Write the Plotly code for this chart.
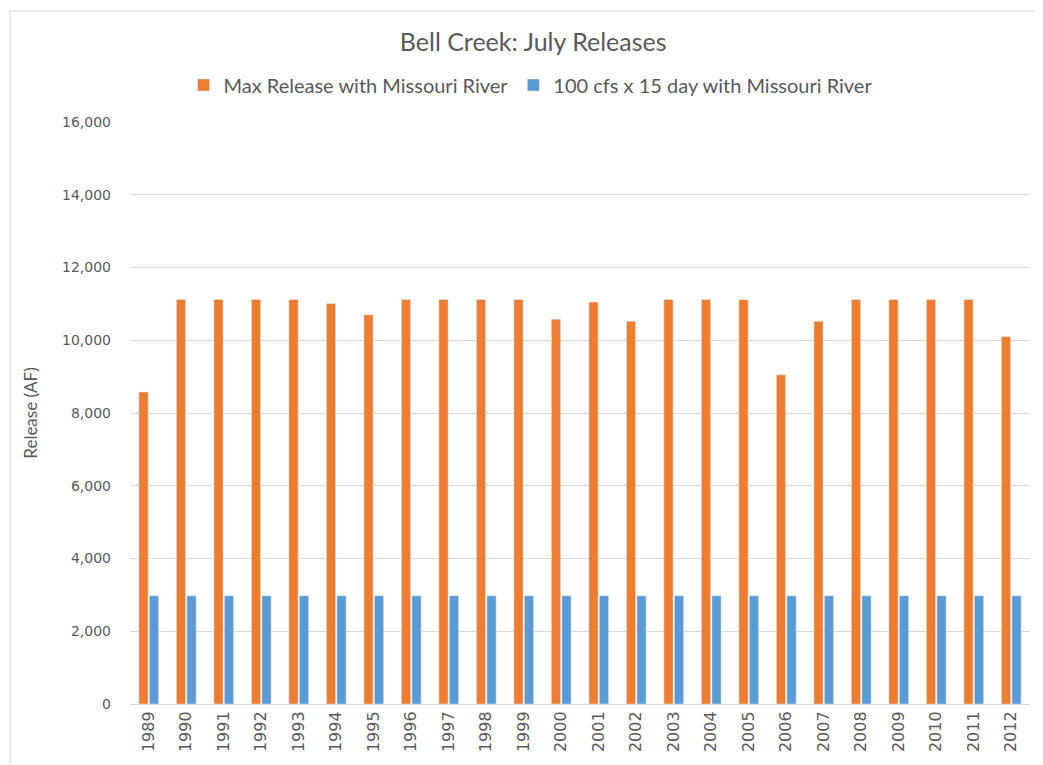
import plotly.graph_objects as go

years = [str(y) for y in range(1989, 2013)]
max_release = [8580, 11120, 11120, 11120, 11120, 11010, 10700, 11120, 11120, 11120,
               11120, 10580, 11050, 10520, 11120, 11120, 11120, 9050, 10520, 11120,
               11120, 11120, 11120, 10100]
cfs_release = [2975] * 24

series_names = ["Max Release with Missouri River", "100 cfs x 15 day with Missouri River"]
colors = ["#ED7D31", "#5B9BD5"]
y_ticks = list(range(0, 16001, 2000))

FONT = "Lato, sans-serif"
TICKFONT = "'DejaVu Sans', sans-serif"
TXT = "#595959"

fig = go.Figure()
fig.add_trace(go.Bar(x=years, y=max_release, name=series_names[0], marker_color=colors[0]))
fig.add_trace(go.Bar(x=years, y=cfs_release, name=series_names[1], marker_color=colors[1]))

fig.update_layout(
    width=1035, height=757,
    margin=dict(l=122, r=13, t=114, b=61),
    paper_bgcolor="white", plot_bgcolor="white",
    barmode="group", bargap=0.44, bargroupgap=0.12,
    title=dict(text="Bell Creek: July Releases", x=0.448, xanchor="center", xref="paper",
               y=1.0 - 34 / 757, yanchor="middle",
               font=dict(family=FONT, size=25, color=TXT)),
    legend=dict(orientation="h", x=0.445, xanchor="center", y=(704 - 85) / 582, yanchor="middle",
                font=dict(family=FONT, size=20, color=TXT), itemwidth=30,
                traceorder="normal"),
    font=dict(family=FONT, color=TXT),
    showlegend=True,
)
fig.update_xaxes(tickangle=-90, tickfont=dict(family=TICKFONT, size=16, color=TXT),
                 showline=True, linecolor="#D9D9D9", linewidth=1, ticks="")
fig.update_yaxes(range=[0, 16000], tickvals=y_ticks, tickformat=",",
                 tickfont=dict(family=TICKFONT, size=14, color=TXT),
                 gridcolor="#D9D9D9", gridwidth=1, zeroline=False, ticklen=0,
                 ticklabelstandoff=18,
                 title=dict(text="Release (AF)", font=dict(family=FONT, size=17, color=TXT), standoff=20))

# chart-area border (partially visible in reference)
fig.add_shape(type="rect", xref="paper", yref="paper",
              x0=-0.1333, x1=1.05, y0=-0.2, y1=1.1907,
              line=dict(color="#D9D9D9", width=1), layer="below")

fig.write_html("out.html")
